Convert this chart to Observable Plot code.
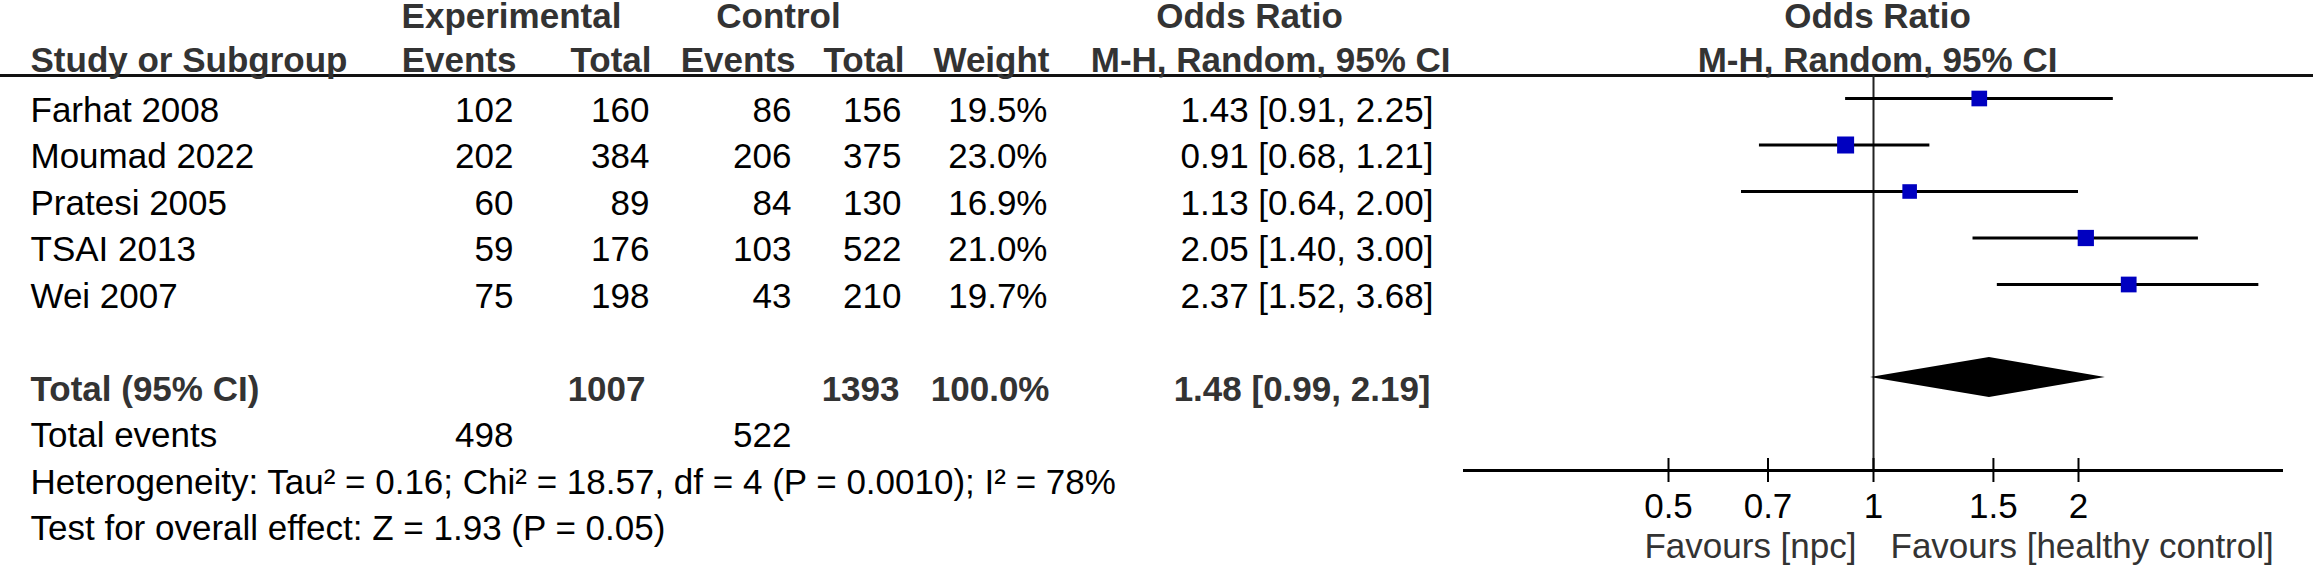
<!DOCTYPE html>
<html>
<head>
<meta charset="utf-8">
<script src="https://cdn.jsdelivr.net/npm/d3@7"></script>
<script src="https://cdn.jsdelivr.net/npm/@observablehq/plot@0.6"></script>
<style>
  html, body { margin: 0; padding: 0; background: #fff; }
  #chart { position: relative; width: 2313px; height: 568px; overflow: hidden; background: #fff; }
  #chart svg { position: absolute; left: 0; top: 0; }
</style>
</head>
<body>
<div id="chart"></div>
<script>
// ---------------- data ----------------
const studies   = ["Farhat 2008", "Moumad 2022", "Pratesi 2005", "TSAI 2013", "Wei 2007"];
const expEvents = [102, 202, 60, 59, 75];
const expTotal  = [160, 384, 89, 176, 198];
const ctlEvents = [86, 206, 84, 103, 43];
const ctlTotal  = [156, 375, 130, 522, 210];
const weights   = [19.5, 23.0, 16.9, 21.0, 19.7];
const orEst     = [1.43, 0.91, 1.13, 2.05, 2.37];
const orLow     = [0.91, 0.68, 0.64, 1.40, 1.52];
const orHigh    = [2.25, 1.21, 2.00, 3.00, 3.68];

const pooledLabel  = ["Total (95% CI)"];
const pooledTotals = [1007, 1393];        // experimental, control
const pooledWeight = [100.0];
const pooledOR     = [1.48, 0.99, 2.19];  // estimate, low, high
const eventsLabel  = ["Total events"];
const totalEvents  = [498, 522];          // experimental, control
const footnotes    = [
  "Heterogeneity: Tau² = 0.16; Chi² = 18.57, df = 4 (P = 0.0010); I² = 78%",
  "Test for overall effect: Z = 1.93 (P = 0.05)"
];

const groupHeaders  = ["Experimental", "Control", "Odds Ratio"];
const studyHeader   = ["Study or Subgroup"];
const columnHeaders = ["Events", "Total", "Events", "Total", "Weight", "M-H, Random, 95% CI"];
const plotHeaders   = ["Odds Ratio", "M-H, Random, 95% CI"];
const axisTicks     = [0.5, 0.7, 1, 1.5, 2];
const axisDomain    = [0.25, 4];
const favoursLeft   = ["Favours [npc]"];
const favoursRight  = ["Favours [healthy control]"];

// ---------------- layout (positions / styles only) ----------------
const W = 2313, H = 568;
const FONT = "'Liberation Sans', Arial, Helvetica, sans-serif";
const FS = 35;
const HEAD = "#333";
const BLUE = "#0000c0";
const rowRange = [110, 528.5];           // pixel centre of slot 0 and slot 9
const slot = {
  header1: -2.02, header2: -1.075, line: -0.753,
  total: 6, events: 7, het: 8, test: 9,
  axis: 7.742, tickHalf: 0.258, tickLabel: 8.531, favours: 9.391
};
const col = {
  study: 30, expEvents: 513, expTotal: 649, ctlEvents: 791, ctlTotal: 901,
  weight: 1047, orText: 1433
};
const groupHeaderX  = [511, 778, 1249];
const columnHeaderX = [516, 651, 795, 904, 1049, 1450];
const forestRange = [1463, 2283];
const markerDy = -12;
const diamondHalf = 0.43;

const fmt2 = d => d.toFixed(2);
const ciText = (e, l, h) => `${fmt2(e)} [${fmt2(l)}, ${fmt2(h)}]`;

const yScale = {type: "linear", domain: [0, 9], range: rowRange, axis: null};
const base = {
  width: W, height: H,
  margin: 0,
  style: {background: "transparent", fontFamily: FONT, overflow: "visible", maxWidth: "none"},
  y: yScale
};
const txt = {fontSize: FS, fontFamily: FONT, fill: "#000"};
const bold = {fontSize: FS, fontFamily: FONT, fill: HEAD, fontWeight: "bold"};

// ---------------- table plot ----------------
const table = Plot.plot({
  ...base,
  x: {type: "identity", axis: null},
  marks: [
    Plot.ruleY([slot.line], {x1: 0, x2: W, stroke: "#111", strokeWidth: 3}),
    // headers
    Plot.text(groupHeaders, {x: (d, i) => groupHeaderX[i], y: slot.header1, text: d => d, textAnchor: "middle", ...bold}),
    Plot.text(studyHeader, {x: col.study, y: slot.header2, text: d => d, textAnchor: "start", ...bold}),
    Plot.text(columnHeaders, {x: (d, i) => columnHeaderX[i], y: slot.header2, text: d => d, textAnchor: "end", ...bold}),
    // study rows
    Plot.text(studies,   {x: col.study, y: (d, i) => i, text: d => d, textAnchor: "start", ...txt}),
    Plot.text(expEvents, {x: col.expEvents, y: (d, i) => i, text: d => String(d), textAnchor: "end", ...txt}),
    Plot.text(expTotal,  {x: col.expTotal, y: (d, i) => i, text: d => String(d), textAnchor: "end", ...txt}),
    Plot.text(ctlEvents, {x: col.ctlEvents, y: (d, i) => i, text: d => String(d), textAnchor: "end", ...txt}),
    Plot.text(ctlTotal,  {x: col.ctlTotal, y: (d, i) => i, text: d => String(d), textAnchor: "end", ...txt}),
    Plot.text(weights,   {x: col.weight, y: (d, i) => i, text: d => d.toFixed(1) + "%", textAnchor: "end", ...txt}),
    Plot.text(orEst,     {x: col.orText, y: (d, i) => i, text: (d, i) => ciText(d, orLow[i], orHigh[i]), textAnchor: "end", ...txt}),
    // total row
    Plot.text(pooledLabel,  {x: col.study, y: slot.total, text: d => d, textAnchor: "start", ...bold}),
    Plot.text(pooledTotals, {x: (d, i) => [col.expTotal - 4, col.ctlTotal - 2][i], y: slot.total, text: d => String(d), textAnchor: "end", ...bold}),
    Plot.text(pooledWeight, {x: col.weight + 2, y: slot.total, text: d => d.toFixed(1) + "%", textAnchor: "end", ...bold}),
    Plot.text([pooledOR], {x: col.orText - 3, y: slot.total, text: d => ciText(d[0], d[1], d[2]), textAnchor: "end", ...bold}),
    // total events
    Plot.text(eventsLabel, {x: col.study, y: slot.events, text: d => d, textAnchor: "start", ...txt}),
    Plot.text(totalEvents, {x: (d, i) => [col.expEvents, col.ctlEvents][i], y: slot.events, text: d => String(d), textAnchor: "end", ...txt}),
    // footnotes
    Plot.text(footnotes, {x: col.study, y: (d, i) => [slot.het, slot.test][i], text: d => d, textAnchor: "start", ...txt})
  ]
});

// ---------------- forest plot ----------------
const diamond = [
  {x: pooledOR[1], y1: slot.total, y2: slot.total},
  {x: pooledOR[0], y1: slot.total - diamondHalf, y2: slot.total + diamondHalf},
  {x: pooledOR[2], y1: slot.total, y2: slot.total}
];

const forest = Plot.plot({
  ...base,
  x: {type: "log", domain: axisDomain, range: forestRange, axis: null},
  r: {type: "sqrt", domain: [0, 23], range: [0, 9.6]},
  marks: [
    Plot.text(plotHeaders, {x: 1, dx: 4, y: (d, i) => [slot.header1, slot.header2][i], text: d => d, textAnchor: "middle", ...bold}),
    Plot.ruleX([1], {y1: slot.line, y2: slot.axis, stroke: "#222", strokeWidth: 2}),
    Plot.ruleY(orEst, {x1: (d, i) => orLow[i], x2: (d, i) => orHigh[i], y: (d, i) => i, dy: markerDy, stroke: "#000", strokeWidth: 3}),
    Plot.dot(orEst, {x: d => d, y: (d, i) => i, r: (d, i) => weights[i], symbol: "square", fill: BLUE, stroke: "none", dy: markerDy}),
    Plot.areaY(diamond, {x: "x", y1: "y1", y2: "y2", fill: "#000", dy: markerDy}),
    Plot.ruleY([slot.axis], {x1: axisDomain[0], x2: axisDomain[1], stroke: "#000", strokeWidth: 3}),
    Plot.ruleX(axisTicks, {x: d => d, y1: slot.axis - slot.tickHalf, y2: slot.axis + slot.tickHalf, stroke: "#000", strokeWidth: 2}),
    Plot.text(axisTicks, {x: d => d, y: slot.tickLabel, text: d => String(d), textAnchor: "middle", ...txt}),
    Plot.text(favoursLeft,  {x: 1, dx: -17, y: slot.favours, text: d => d, textAnchor: "end", ...txt, fill: HEAD}),
    Plot.text(favoursRight, {x: 1, dx: 17, y: slot.favours, text: d => d, textAnchor: "start", ...txt, fill: HEAD})
  ]
});

const chart = document.getElementById("chart");
chart.appendChild(table);
chart.appendChild(forest);
</script>
</body>
</html>
